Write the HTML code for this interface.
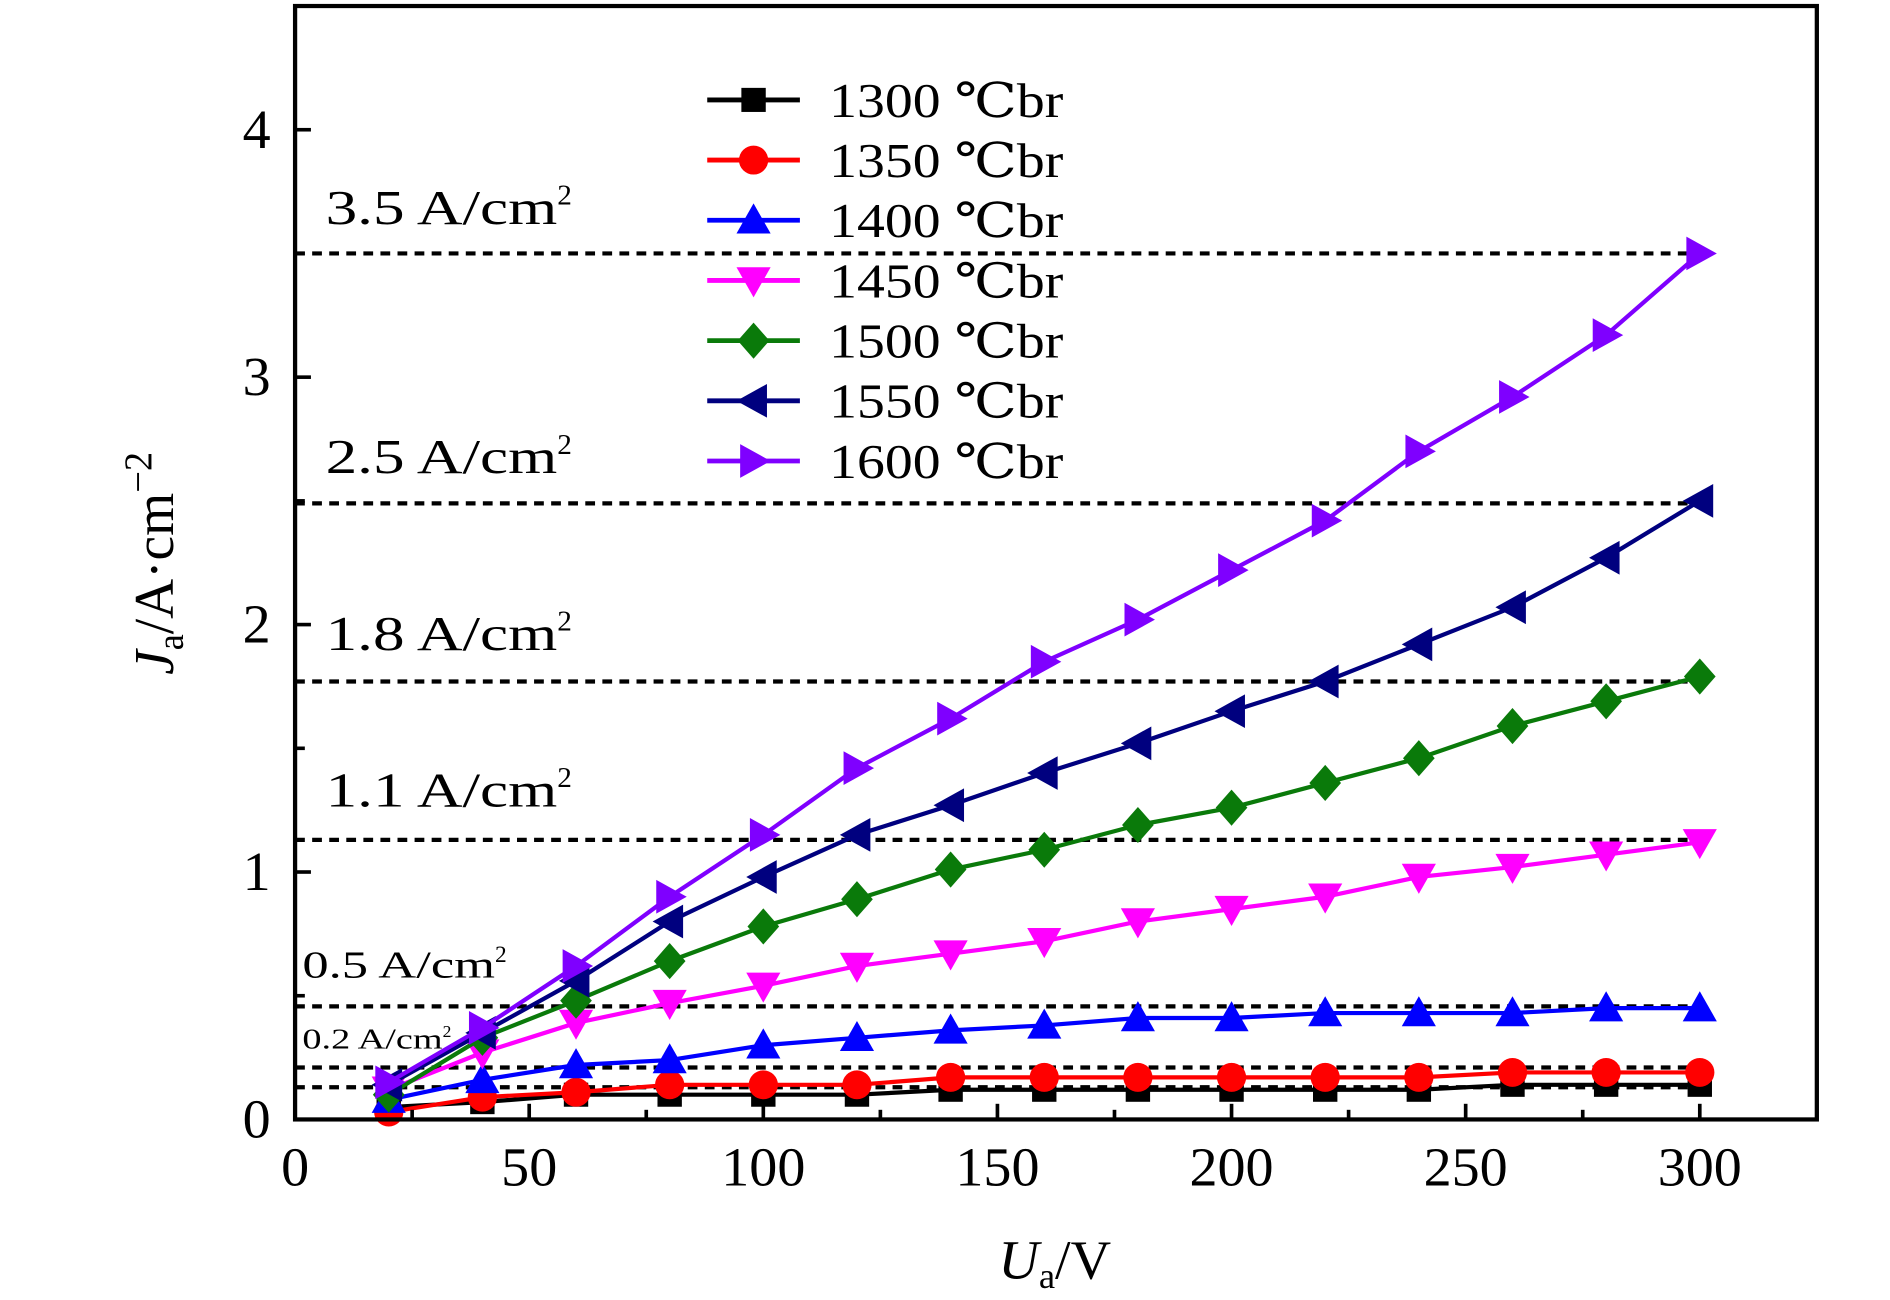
<!DOCTYPE html>
<html><head><meta charset="utf-8"><style>
html,body{margin:0;padding:0;background:#fff;}
svg{display:block;}
text{font-family:"Liberation Serif","DejaVu Serif",serif;fill:#000;}
</style></head><body>
<svg id="chart" width="1890" height="1300" viewBox="0 0 1550 1080" preserveAspectRatio="none" xmlns="http://www.w3.org/2000/svg">
<g id="grid"></g>
<g id="series"></g>
<g id="axes"></g>
<g id="legend"></g>
</svg>
<script>
const xValues=[20,40,60,80,100,120,140,160,180,200,220,240,260,280,300];
const s1300=[0.05,0.07,0.10,0.10,0.10,0.10,0.12,0.12,0.12,0.12,0.12,0.12,0.14,0.14,0.14];
const s1350=[0.03,0.09,0.11,0.14,0.14,0.14,0.17,0.17,0.17,0.17,0.17,0.17,0.19,0.19,0.19];
const s1400=[0.08,0.16,0.22,0.24,0.30,0.33,0.36,0.38,0.41,0.41,0.43,0.43,0.43,0.45,0.45];
const s1450=[0.12,0.27,0.39,0.47,0.54,0.62,0.67,0.72,0.80,0.85,0.90,0.98,1.02,1.07,1.12];
const s1500=[0.10,0.33,0.48,0.64,0.78,0.89,1.01,1.09,1.19,1.26,1.36,1.46,1.59,1.69,1.79];
const s1550=[0.14,0.35,0.56,0.80,0.98,1.15,1.27,1.40,1.52,1.65,1.77,1.92,2.07,2.27,2.50];
const s1600=[0.15,0.37,0.62,0.90,1.15,1.42,1.62,1.85,2.02,2.22,2.42,2.70,2.92,3.17,3.50];
const seriesNames=["1300 ℃br","1350 ℃br","1400 ℃br","1450 ℃br","1500 ℃br","1550 ℃br","1600 ℃br"];
const refValues=[3.5,2.49,1.77,1.13,0.457,0.21,0.13];
const refLabels=["3.5 A/cm","2.5 A/cm","1.8 A/cm","1.1 A/cm","0.5 A/cm","0.2 A/cm",""];
const xTicks=[0,50,100,150,200,250,300];
const yTicks=[0,1,2,3,4];

const NS="http://www.w3.org/2000/svg";
const L=242,R=1490,T=5,B=930;
const xMax=325,yMax=4.5;
const X=v=>L+v/xMax*(R-L);
const Y=v=>B-v/yMax*(B-T);
function mk(tag,attrs,parent){const e=document.createElementNS(NS,tag);for(const k in attrs)e.setAttribute(k,attrs[k]);parent.appendChild(e);return e;}
const grid=document.getElementById('grid'),ser=document.getElementById('series'),axes=document.getElementById('axes'),leg=document.getElementById('legend');

// reference lines: x, baseline y, font size, text length
const refLabelPos=[[267,186,40,190],[267,393,40,190],[267,540,40,190],[267,670,40,190],[248,812,32,158],[248,871,24,115]];
refValues.forEach((v,i)=>{
 const ln=mk('line',{x1:L,x2:1400,y1:Y(v),y2:Y(v),stroke:'#000','stroke-width':3.5,'stroke-dasharray':'8,6'},grid);
 
 
 if(refLabels[i]){const p=refLabelPos[i];
  const t=mk('text',{x:p[0],y:p[1],'font-size':p[2]},grid);
  
  
  const a=mk('tspan',{textLength:p[3],lengthAdjust:'spacingAndGlyphs'},t);a.textContent=refLabels[i];
  const s=mk('tspan',{'font-size':p[2]*0.6,dy:-p[2]*0.4},t);s.textContent='2';}
});

const allSeries=[s1300,s1350,s1400,s1450,s1500,s1550,s1600];
const colors=['#000','#ff0000','#0000ff','#ff00ff','#0a7a0a','#00007f','#7f00ff'];
const shapes=['square','circle','up','down','diamond','left','right'];
function marker(shape,cx,cy,c,parent){
 const r=12;let e;
 if(shape==='square')e=mk('rect',{x:cx-10,y:cy-10,width:20,height:20,fill:c},parent);
 else if(shape==='circle')e=mk('circle',{cx:cx,cy:cy,r:r,fill:c},parent);
 else{let pts;
  if(shape==='up')pts=[[0,-14],[14,11],[-14,11]];
  if(shape==='down')pts=[[0,14],[14,-11],[-14,-11]];
  if(shape==='diamond')pts=[[0,-15],[13,0],[0,15],[-13,0]];
  if(shape==='left')pts=[[-14,0],[11,-14],[11,14]];
  if(shape==='right')pts=[[14,0],[-11,-14],[-11,14]];
  e=mk('polygon',{points:pts.map(p=>(cx+p[0])+','+(cy+p[1])).join(' '),fill:c},parent);}
 return e;
}
allSeries.forEach((d,i)=>{
 const g=mk('g',{},ser);
 
 
 const pl=mk('polyline',{points:xValues.map((x,j)=>X(x)+','+Y(d[j])).join(' '),fill:'none',stroke:colors[i],'stroke-width':3.5},g);
 
 
 xValues.forEach((x,j)=>{const m=marker(shapes[i],X(x),Y(d[j]),colors[i],g);
  
  });
 const ly=83+i*50;
 const lg=mk('g',{},leg);
 
 
 mk('line',{x1:580,x2:656,y1:ly,y2:ly,stroke:colors[i],'stroke-width':4},lg);
 marker(shapes[i],618,ly,colors[i],lg);
 const t=mk('text',{x:680,y:ly+14,'font-size':40,textLength:192,lengthAdjust:'spacingAndGlyphs'},lg);t.textContent=seriesNames[i];
});

const fr=mk('rect',{x:L,y:T,width:R-L,height:B-T,fill:'none',stroke:'#000','stroke-width':3.5},axes);


for(let v=0;v<=xMax;v+=25){const big=v%50===0;mk('line',{x1:X(v),x2:X(v),y1:B,y2:B-(big?13:8),stroke:'#000','stroke-width':3},axes);}
for(let v=0;v<=yMax;v+=0.5){const big=v%1===0;mk('line',{x1:L,x2:L+(big?13:8),y1:Y(v),y2:Y(v),stroke:'#000','stroke-width':3},axes);}
xTicks.forEach(v=>{const t=mk('text',{x:X(v),y:985,'font-size':46,'text-anchor':'middle'},axes);
 
 
 t.textContent=v;});
yTicks.forEach(v=>{const t=mk('text',{x:222,y:Y(v)+15,'font-size':46,'text-anchor':'end'},axes);
 
 
 t.textContent=v;});
const xt=mk('text',{x:865,y:1062,'font-size':46,'text-anchor':'middle'},axes);


xt.innerHTML='<tspan font-style="italic">U</tspan><tspan font-size="30" dy="8">a</tspan><tspan dy="-8">/V</tspan>';
const yt=mk('text',{x:0,y:0,'font-size':46,'text-anchor':'middle',transform:'translate(142,468) rotate(-90)'},axes);


yt.innerHTML='<tspan font-style="italic">J</tspan><tspan font-size="30" dy="8">a</tspan><tspan dy="-8">/A·cm</tspan><tspan font-size="32" dy="-18">−2</tspan>';
</script>
</body></html>
